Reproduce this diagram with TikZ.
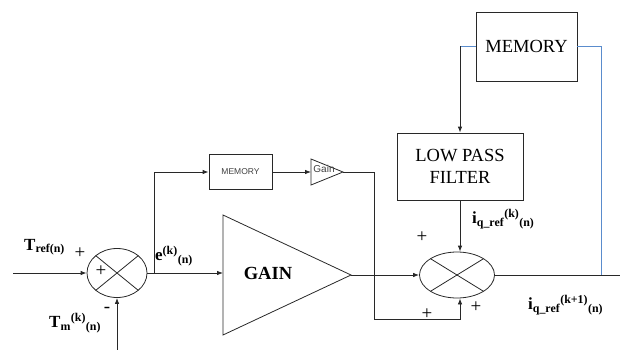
\documentclass[tikz,border=0pt]{standalone}
\usepackage{fontspec}
\setmainfont{Liberation Serif}
\setsansfont{Liberation Sans}
\usetikzlibrary{arrows.meta,shapes.geometric}
\definecolor{lineblue}{RGB}{90,140,205}
\definecolor{ln}{RGB}{40,40,40}
\tikzset{
  wire/.style={draw=ln, line width=0.8pt},
  arr/.style={wire, -{Latex[length=6pt,width=4.5pt]}},
  bwire/.style={draw=lineblue, line width=0.8pt},
  bigbox/.style={draw=ln, line width=0.8pt, rectangle, inner sep=0pt, font=\fontsize{18.5}{22}\selectfont, align=center},
  smallbox/.style={draw=ln, line width=0.8pt, rectangle, inner sep=0pt, font=\sffamily\fontsize{8.5}{10}\selectfont, text=black!75},
  sumnode/.style={draw=ln, line width=0.8pt, ellipse, inner sep=0pt},
  lbl/.style={inner sep=0pt, font=\fontsize{17}{20}\selectfont\bfseries},
  sgn/.style={inner sep=0pt, font=\fontsize{19}{20}\selectfont},
}
\begin{document}
\begin{tikzpicture}[x=1pt,y=-1pt]
\useasboundingbox (0,0) rectangle (620,350);
% blocks
\node[bigbox, minimum width=101pt, minimum height=69pt] (mem2) at (526.5,46.5) {MEMORY};
\node[bigbox, minimum width=126pt, minimum height=67pt] (lpf) at (460,166.5) {LOW PASS\\FILTER};
\node[smallbox, minimum width=63pt, minimum height=35pt] (mem1) at (240.5,172) {MEMORY};
\node[sumnode, minimum width=60pt, minimum height=49pt] (s1) at (117,273) {};
\node[sumnode, minimum width=75pt, minimum height=46pt] (s2) at (457,275) {};
% crosses
\draw[wire] ([shift={(-21.2,-17.3)}]s1.center) -- ([shift={(21.2,17.3)}]s1.center);
\draw[wire] ([shift={(-21.2,17.3)}]s1.center) -- ([shift={(21.2,-17.3)}]s1.center);
\draw[wire] ([shift={(-26.5,-16.3)}]s2.center) -- ([shift={(26.5,16.3)}]s2.center);
\draw[wire] ([shift={(-26.5,16.3)}]s2.center) -- ([shift={(26.5,-16.3)}]s2.center);
% GAIN triangle
\coordinate (gin) at (223,273);
\coordinate (gapex) at (351,275);
\draw[wire] (223,215) -- (gapex) -- (223,335) -- cycle;
\node[inner sep=0pt, font=\fontsize{18.5}{21}\selectfont\bfseries] (gainlbl) at (268,273) {GAIN};
% small Gain triangle
\coordinate (g2in) at (311,172);
\coordinate (g2apex) at (343,172);
\draw[wire] (311,159) -- (g2apex) -- (311,185) -- cycle;
\node[inner sep=0pt, font=\sffamily\fontsize{10}{11}\selectfont, text=black!75] (gainsm) at (324,169) {Gain};
% coordinates
\coordinate (in1) at (13,273);
\coordinate (in2) at (117,350);
\coordinate (br) at (154,273);
\coordinate (c1) at (374,319);
\coordinate (out) at (620,275);
\coordinate (tap) at (601,275);
\coordinate (mtap) at (460,46.5);
% connectors
\draw[arr] (in1) -- (s1.west);
\draw[arr] (in2) -- (s1.south);
\draw[arr] (s1.east) -- (gin);
\draw[arr] (br) |- (mem1.west);
\draw[arr] (mem1.east) -- (g2in);
\draw[arr] (g2apex) -| (c1) -| ([xshift=3pt]s2.south);
\draw[arr] (gapex) -- (s2.west);
\draw[arr] (lpf.south) -- (lpf.south |- s2.north);
\draw[wire] (s2.east) -- (out);
\draw[bwire] (mem2.east) -| (tap);
\draw[bwire] (mem2.west) -- (mtap);
\draw[arr] (mtap) -- (lpf.north);
% labels
\node[lbl, anchor=west] (tref) at (24,247) {T\textsubscript{ref(n)}};
\node[sgn] (p1) at (80,253) {+};
\node[sgn] (p2) at (101,271) {+};
\node[sgn] (m1) at (107,310) {-};
\node[lbl, anchor=west] (tm) at (49,323) {T\textsubscript{m}\textsuperscript{(k)}\textsubscript{(n)}};
\node[lbl, anchor=west] (elbl) at (155,256) {e\textsuperscript{(k)}\textsubscript{(n)}};
\node[lbl, anchor=west] (iq) at (472,219) {i\textsubscript{q\_ref}\textsuperscript{(k)}\textsubscript{(n)}};
\node[sgn] (p3) at (422,237) {+};
\node[sgn] (p4) at (427,314) {+};
\node[sgn] (p5) at (476,307) {+};
\node[lbl, anchor=west] (iq1) at (528,305) {i\textsubscript{q\_ref}\textsuperscript{(k+1)}\textsubscript{(n)}};
\end{tikzpicture}
\end{document}
